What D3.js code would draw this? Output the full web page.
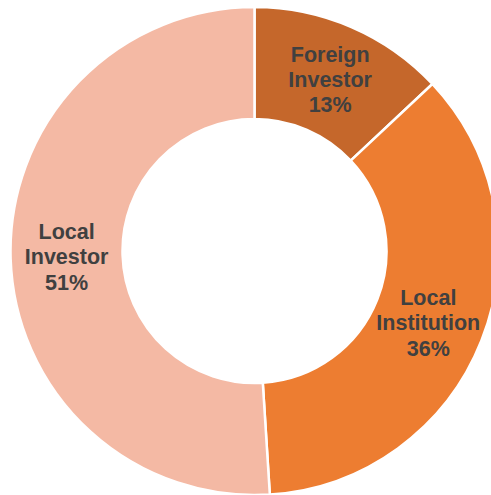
<!DOCTYPE html>
<html>
<head>
<meta charset="utf-8">
<script src="https://cdn.jsdelivr.net/npm/d3@7"></script>
<style>
  body { margin: 0; background: #fff; }
  svg { display: block; }
</style>
</head>
<body>
<svg width="491" height="495"></svg>
<script>
const categories = ["Foreign Investor", "Local Institution", "Local Investor"];
const labelLines = [["Foreign", "Investor"], ["Local", "Institution"], ["Local", "Investor"]];
const shares = [13, 36, 51];
const colors = ["#C5672B", "#ED7D31", "#F4B9A4"];

const svg = d3.select("svg"),
    cx = 254.5,
    cy = 251,
    outerR = 244,
    innerR = 132;

const data = categories.map((c, i) => ({name: c, lines: labelLines[i], value: shares[i], color: colors[i]}));

const pie = d3.pie()
    .sort(null)
    .value(d => d.value);

const arc = d3.arc()
    .innerRadius(innerR)
    .outerRadius(outerR);

const g = svg.append("g").attr("transform", `translate(${cx},${cy})`);

g.selectAll("path")
    .data(pie(data))
    .join("path")
    .attr("d", arc)
    .attr("fill", d => d.data.color)
    .attr("stroke", "#fff")
    .attr("stroke-width", 2.5)
    .attr("stroke-linejoin", "miter");

// Labels at the slice centroid, small vertical nudges for the right-hand slices
const lineH = 25.3;
const labels = g.selectAll("text.lbl")
    .data(pie(data))
    .join("text")
    .attr("class", "lbl")
    .attr("transform", d => {
      let [x, y] = arc.centroid(d);
      if (d.index === 0) { x += 1; y += 1; }
      if (d.index === 1) { x -= 1; y += 2.5; }
      return `translate(${x},${y})`;
    })
    .attr("text-anchor", "middle")
    .style("font-family", "'Liberation Sans', Arial, sans-serif")
    .style("font-weight", "bold")
    .style("font-size", "21.5px")
    .attr("fill", "#404040");

labels.each(function(d) {
  const lines = d.data.lines.concat([d.data.value + "%"]);
  const t = d3.select(this);
  lines.forEach((l, i) => {
    t.append("tspan")
        .attr("x", 0)
        .attr("y", (i - 1) * lineH + 7.5)
        .text(l);
  });
});
</script>
</body>
</html>
